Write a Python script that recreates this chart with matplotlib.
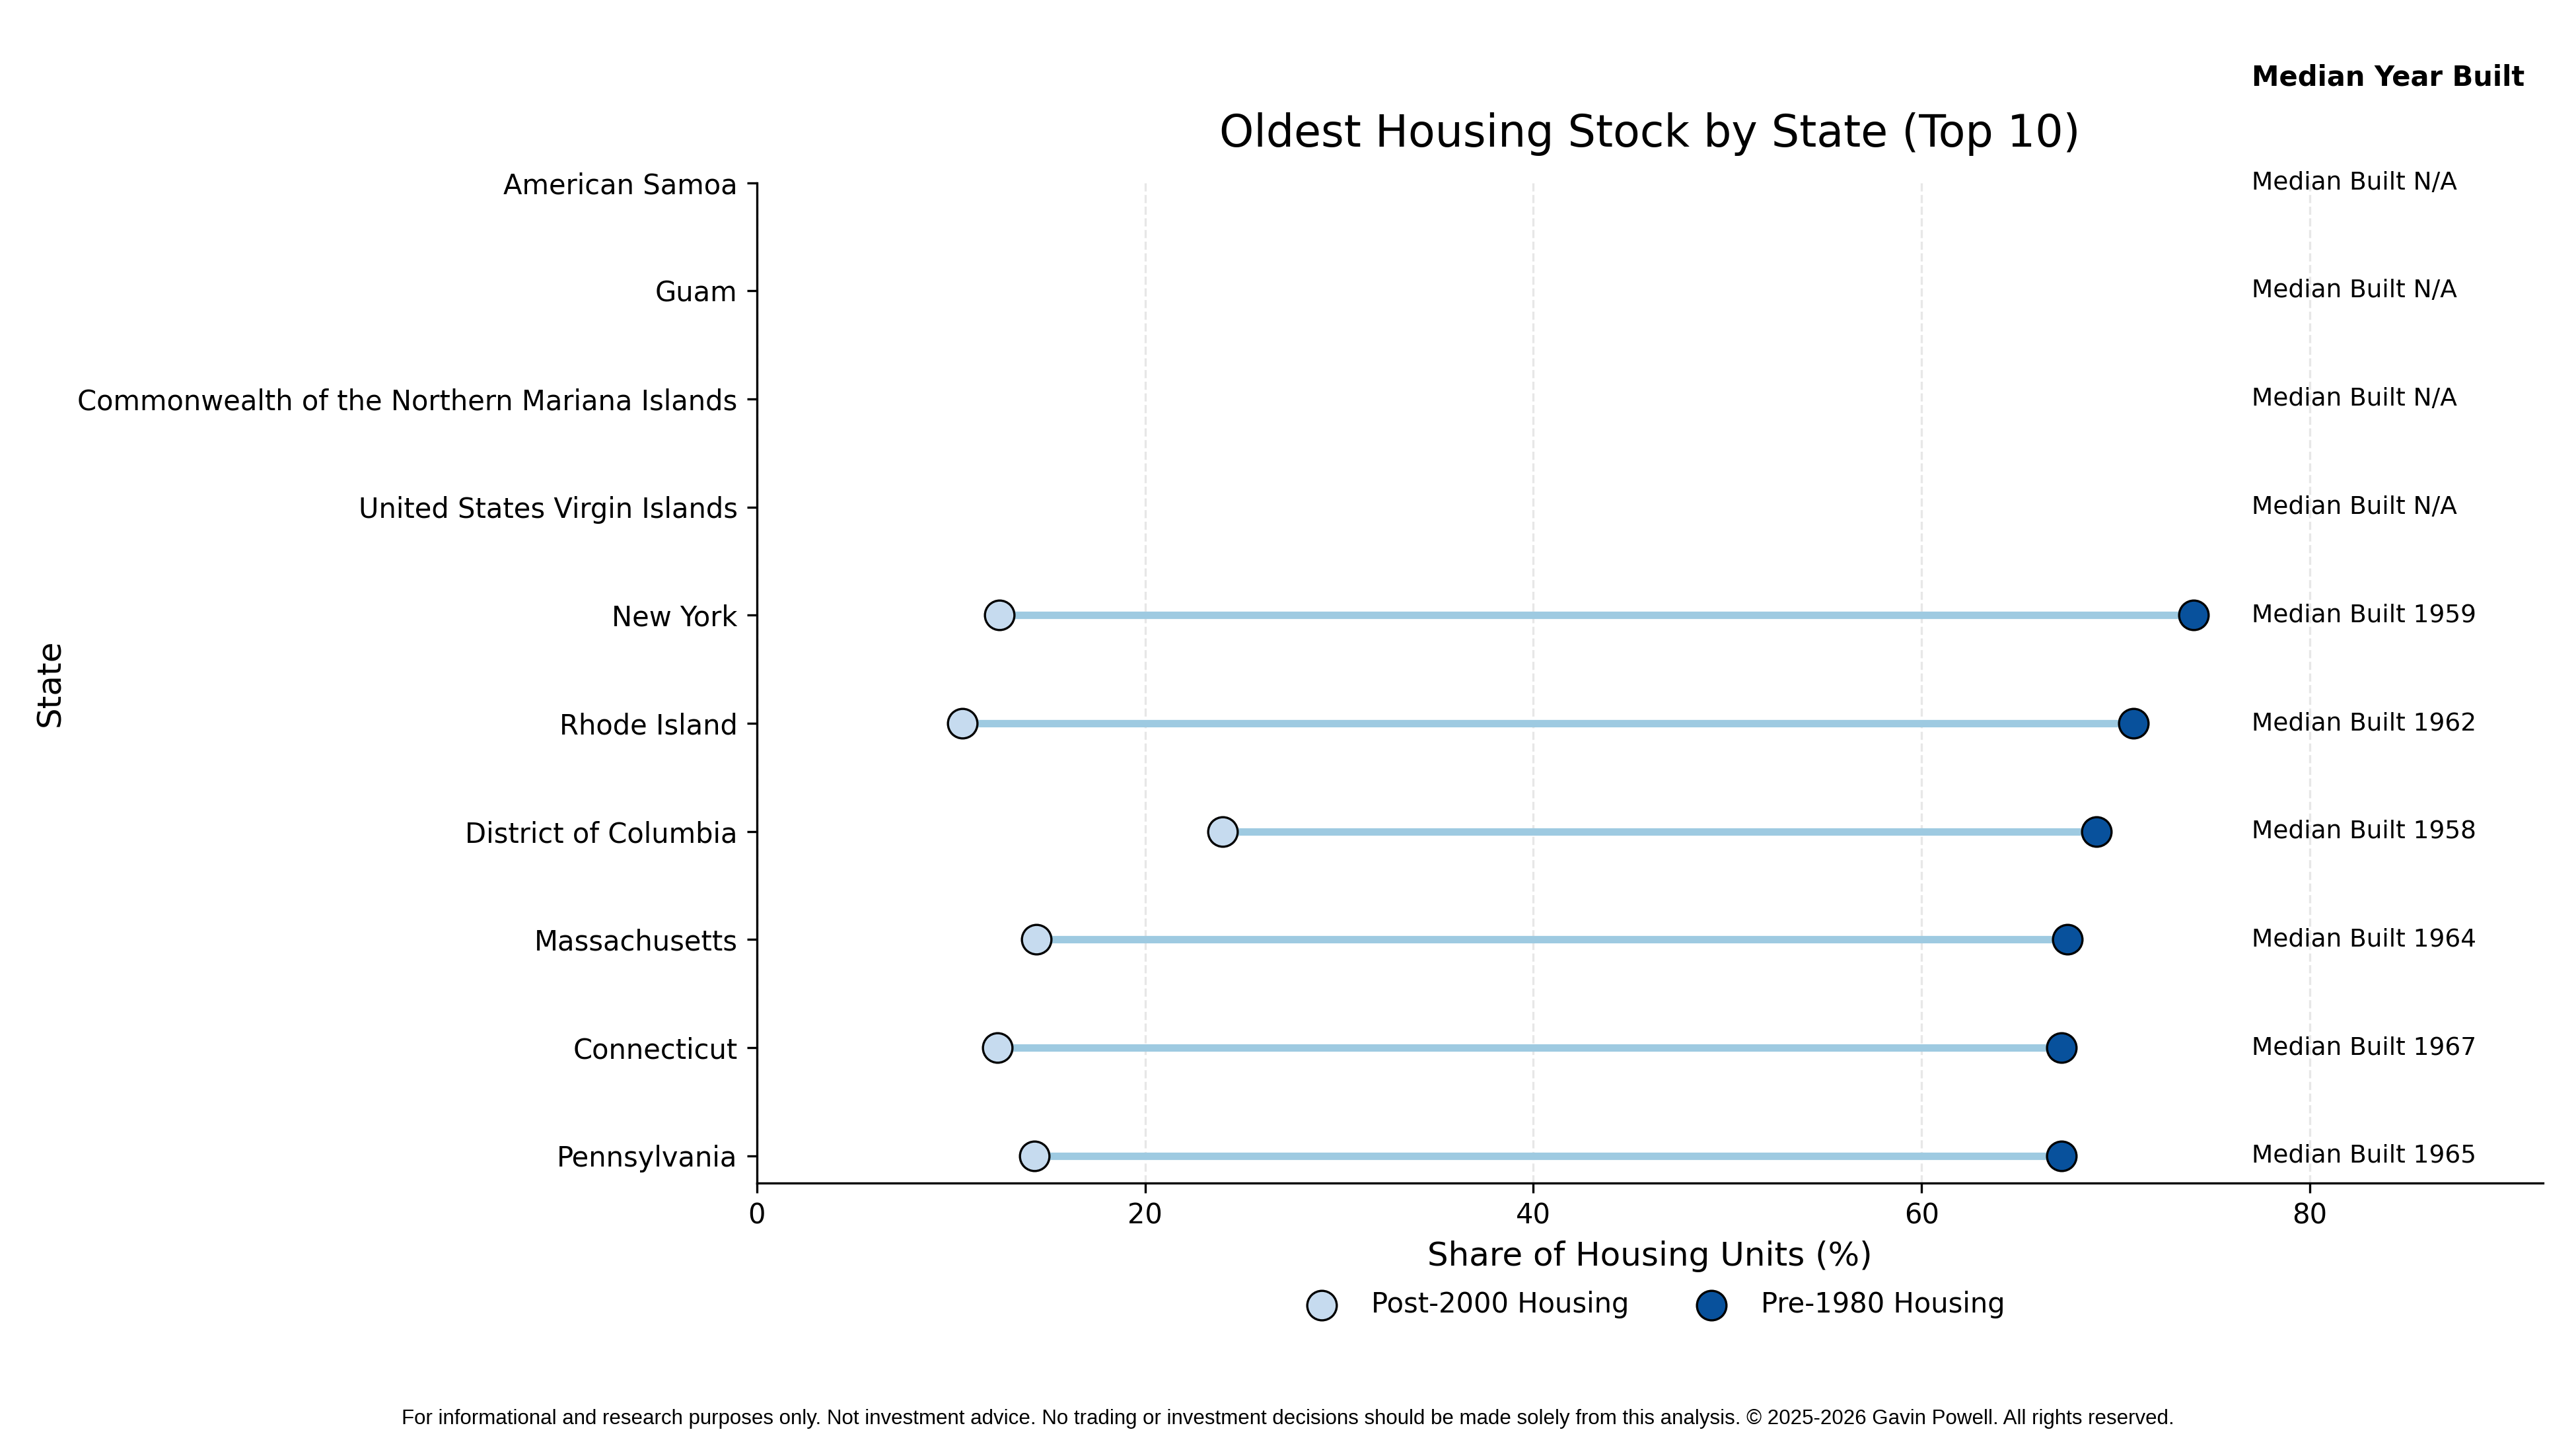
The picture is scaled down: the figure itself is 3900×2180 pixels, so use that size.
import numpy as np
import matplotlib
matplotlib.use("Agg")
import matplotlib.pyplot as plt

states = ["Pennsylvania", "Connecticut", "Massachusetts", "District of Columbia",
          "Rhode Island", "New York", "United States Virgin Islands",
          "Commonwealth of the Northern Mariana Islands", "Guam", "American Samoa"]
post_2000 = [14.3, 12.4, 14.4, 24.0, 10.6, 12.5, np.nan, np.nan, np.nan, np.nan]
pre_1980 = [67.2, 67.2, 67.5, 69.0, 70.9, 74.0, np.nan, np.nan, np.nan, np.nan]
median_year = ["1965", "1967", "1964", "1958", "1962", "1959", "N/A", "N/A", "N/A", "N/A"]

plt.rcParams['font.family'] = ['DejaVu Sans']

fig = plt.figure(figsize=(13, 7.2667), dpi=300)
ax = fig.add_axes([0.2938, 0.1786, 0.6933, 0.6945])

y = np.arange(len(states))
for yi, a, b in zip(y, post_2000, pre_1980):
    if not (np.isnan(a) or np.isnan(b)):
        ax.plot([a, b], [yi, yi], color='#9ecae1', lw=2.7, zorder=1, solid_capstyle='butt')

ax.scatter(post_2000, y, s=115, color='#c6dbef', edgecolor='black', linewidth=0.8,
           zorder=3, label='Post-2000 Housing')
ax.scatter(pre_1980, y, s=115, color='#08519c', edgecolor='black', linewidth=0.8,
           zorder=3, label='Pre-1980 Housing')

for yi, yr in zip(y, median_year):
    ax.text(77, yi, f"Median Built {yr}", va='center', ha='left', fontsize=9, clip_on=False)
ax.text(77, len(states) - 0.03, "Median Year Built", va='center', ha='left', fontsize=10,
        fontweight='bold', clip_on=False)

ax.set_yticks(y)
ax.set_yticklabels(states, fontsize=10)
ax.set_xlim(0, 92)
ax.set_ylim(-0.25, 9)
ax.set_xticks([0, 20, 40, 60, 80])
ax.tick_params(axis='x', labelsize=10)
ax.xaxis.grid(True, linestyle='--', color='#dddddd', alpha=0.7, lw=0.8)
ax.set_axisbelow(True)
ax.spines['top'].set_visible(False)
ax.spines['right'].set_visible(False)

ax.set_xlabel("Share of Housing Units (%)", fontsize=12)
ax.set_ylabel("State", fontsize=12)
ax.set_title("Oldest Housing Stock by State (Top 10)", fontsize=16, pad=13.2)

ax.legend(loc='center', bbox_to_anchor=(0.5, -0.122), ncol=2, frameon=False, fontsize=10,
          columnspacing=2.0)

fig.text(0.5, 0.0145, "For informational and research purposes only. Not investment advice. "
         "No trading or investment decisions should be made solely from this analysis. "
         "\u00a9 2025-2026 Gavin Powell. All rights reserved.",
         ha='center', va='center', fontsize=7.5, family=['Liberation Sans', 'DejaVu Sans'])

fig.savefig("out.png", dpi=300)
